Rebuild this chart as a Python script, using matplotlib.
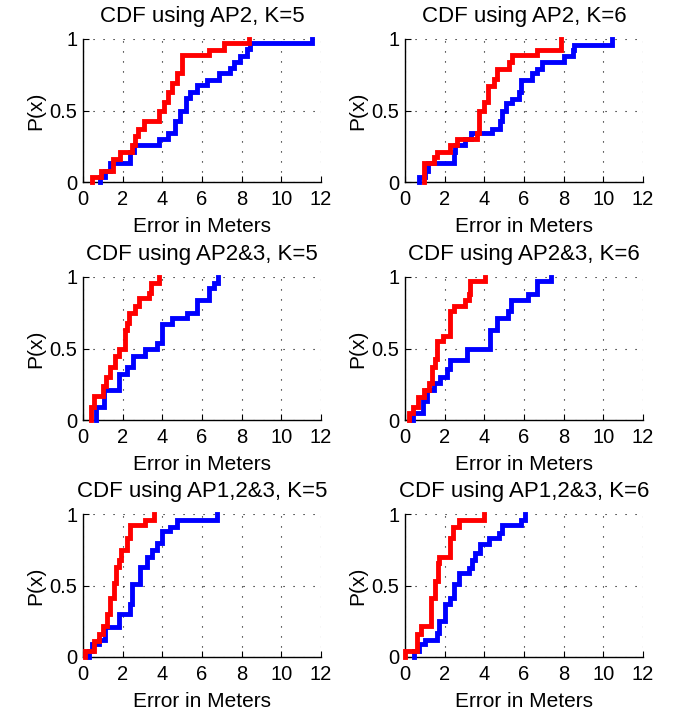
import matplotlib
matplotlib.use("Agg")
import matplotlib.pyplot as plt

plt.rcParams['font.family'] = ['Liberation Sans', 'DejaVu Sans']

titles = ["CDF using AP2, K=5", "CDF using AP2, K=6",
          "CDF using AP2&3, K=5", "CDF using AP2&3, K=6",
          "CDF using AP1,2&3, K=5", "CDF using AP1,2&3, K=6"]

# step curves: x = jump locations, y = level after the jump
red1_x = [0.45, 0.91, 1.5, 1.88, 2.47, 2.64, 2.76, 3.09, 3.85, 4.07, 4.27, 4.49, 4.74, 4.99, 6.34, 7.09, 8.35]
red1_y = [0.035, 0.08, 0.16, 0.21, 0.26, 0.32, 0.37, 0.43, 0.50, 0.56, 0.63, 0.69, 0.76, 0.89, 0.925, 0.97, 1.0]
blue1_x = [0.87, 1.13, 1.38, 2.39, 2.55, 3.82, 4.27, 4.66, 4.91, 5.21, 5.41, 5.75, 6.25, 6.84, 7.43, 7.63, 7.93, 8.27, 8.44, 11.55]
blue1_y = [0.035, 0.08, 0.13, 0.21, 0.26, 0.30, 0.34, 0.43, 0.50, 0.59, 0.63, 0.68, 0.71, 0.76, 0.80, 0.84, 0.88, 0.93, 0.97, 1.0]

red2_x = [0.96, 1.44, 1.6, 2.28, 2.62, 3.63, 3.75, 3.97, 4.17, 4.48, 4.65, 5.24, 5.41, 6.67, 7.85]
red2_y = [0.13, 0.175, 0.21, 0.26, 0.30, 0.34, 0.50, 0.56, 0.67, 0.72, 0.79, 0.84, 0.89, 0.92, 1.0]
blue2_x = [0.73, 1.01, 1.18, 2.45, 2.53, 3.04, 3.33, 4.39, 4.81, 4.9, 5.07, 5.41, 5.74, 5.83, 6.42, 6.67, 6.93, 8.02, 8.45, 8.53, 10.42]
blue2_y = [0.035, 0.08, 0.13, 0.21, 0.26, 0.30, 0.34, 0.37, 0.43, 0.50, 0.55, 0.58, 0.63, 0.71, 0.76, 0.79, 0.84, 0.88, 0.92, 0.96, 1.0]

red3_x = [0.42, 0.54, 1.01, 1.18, 1.38, 1.63, 1.8, 2.13, 2.22, 2.34, 2.64, 2.81, 3.31, 3.45, 3.85]
red3_y = [0.09, 0.17, 0.24, 0.30, 0.37, 0.45, 0.50, 0.63, 0.68, 0.75, 0.80, 0.85, 0.89, 0.96, 1.0]
blue3_x = [0.67, 1.04, 1.8, 2.22, 2.52, 3.14, 3.73, 3.98, 4.49, 5.24, 5.75, 6.34, 6.59, 6.79]
blue3_y = [0.09, 0.21, 0.32, 0.37, 0.45, 0.50, 0.54, 0.67, 0.71, 0.75, 0.84, 0.92, 0.96, 1.0]

red4_x = [0.22, 0.39, 0.68, 0.96, 1.23, 1.35, 1.52, 1.6, 1.91, 2.25, 2.45, 3.04, 3.21, 3.29, 4.05]
red4_y = [0.05, 0.09, 0.16, 0.21, 0.26, 0.37, 0.43, 0.55, 0.59, 0.76, 0.80, 0.84, 0.88, 0.97, 1.0]
blue4_x = [0.42, 0.93, 1.13, 1.44, 1.74, 2.11, 2.25, 3.13, 4.27, 4.65, 5.19, 5.32, 6.2, 6.67, 7.35]
blue4_y = [0.05, 0.13, 0.21, 0.26, 0.30, 0.36, 0.42, 0.50, 0.63, 0.71, 0.76, 0.84, 0.88, 0.97, 1.0]

red5_x = [0.12, 0.54, 0.79, 1.01, 1.21, 1.38, 1.55, 1.68, 1.8, 1.92, 2.22, 2.35, 3.14, 3.56]
red5_y = [0.04, 0.11, 0.16, 0.22, 0.30, 0.41, 0.52, 0.63, 0.68, 0.75, 0.83, 0.92, 0.96, 1.0]
blue5_x = [0.29, 0.45, 0.79, 1.13, 1.8, 2.39, 2.47, 2.86, 3.23, 3.48, 3.73, 3.98, 4.4, 4.74, 6.76]
blue5_y = [0.04, 0.09, 0.12, 0.21, 0.30, 0.37, 0.51, 0.63, 0.70, 0.75, 0.80, 0.88, 0.91, 0.96, 1.0]

red6_x = [0.0, 0.59, 0.79, 1.3, 1.52, 1.64, 1.69, 2.25, 2.4, 2.7, 4.0]
red6_y = [0.04, 0.16, 0.22, 0.41, 0.53, 0.66, 0.70, 0.83, 0.91, 0.96, 1.0]
blue6_x = [0.46, 0.73, 1.01, 1.6, 1.69, 2.03, 2.25, 2.45, 2.7, 3.21, 3.38, 3.55, 3.8, 4.22, 4.73, 4.9, 5.83, 6.03]
blue6_y = [0.04, 0.09, 0.12, 0.17, 0.25, 0.37, 0.41, 0.51, 0.59, 0.62, 0.68, 0.73, 0.79, 0.83, 0.87, 0.92, 0.96, 1.0]

red_x = [red1_x, red2_x, red3_x, red4_x, red5_x, red6_x]
red_y = [red1_y, red2_y, red3_y, red4_y, red5_y, red6_y]
blue_x = [blue1_x, blue2_x, blue3_x, blue4_x, blue5_x, blue6_x]
blue_y = [blue1_y, blue2_y, blue3_y, blue4_y, blue5_y, blue6_y]

x_ticks = [0, 2, 4, 6, 8, 10, 12]
y_ticks = [0, 0.5, 1]
y_ticklabels = ["0", "0.5", "1"]

W, H = 678, 717
fig = plt.figure(figsize=(W / 100, H / 100), dpi=100)

lefts = [83, 405]
tops = [39, 277, 514]
aw, ah = 238, 143

def step(xs, ys):
    px = [xs[0]] + list(xs)
    py = [0] + list(ys)
    return px, py

for i in range(6):
    r, c = divmod(i, 2)
    ax = fig.add_axes([lefts[c] / W, 1 - (tops[r] + ah) / H, aw / W, ah / H])
    bx, by = step(blue_x[i], blue_y[i])
    rx, ry = step(red_x[i], red_y[i])
    ax.plot(bx, by, color=(0, 0, 1), lw=3.5, drawstyle='steps-post', solid_joinstyle='miter', clip_on=False, zorder=3)
    ax.plot(rx, ry, color=(1, 0, 0), lw=3.5, drawstyle='steps-post', solid_joinstyle='miter', clip_on=False, zorder=4)
    ax.set_xlim(0, 12)
    ax.set_ylim(0, 1)
    ax.set_xticks(x_ticks)
    ax.set_yticks(y_ticks)
    ax.set_yticklabels(y_ticklabels)
    ax.grid(True, linestyle=(0, (1, 8)), color='black', linewidth=0.8)
    ax.spines['top'].set_visible(False)
    ax.spines['right'].set_visible(False)
    ax.spines['left'].set_linewidth(1.0)
    ax.spines['bottom'].set_linewidth(1.0)
    ax.tick_params(direction='in', length=4, labelsize=14.5)
    ax.tick_params(axis='x', pad=6)
    ax.tick_params(axis='y', pad=4)
    ax.set_title(titles[i], fontsize=16, pad=12.5)
    ax.set_xlabel("Error in Meters", fontsize=15, labelpad=5.5)
    ax.set_ylabel("P(x)", fontsize=15, labelpad=3)

fig.savefig("out.png", dpi=100)
